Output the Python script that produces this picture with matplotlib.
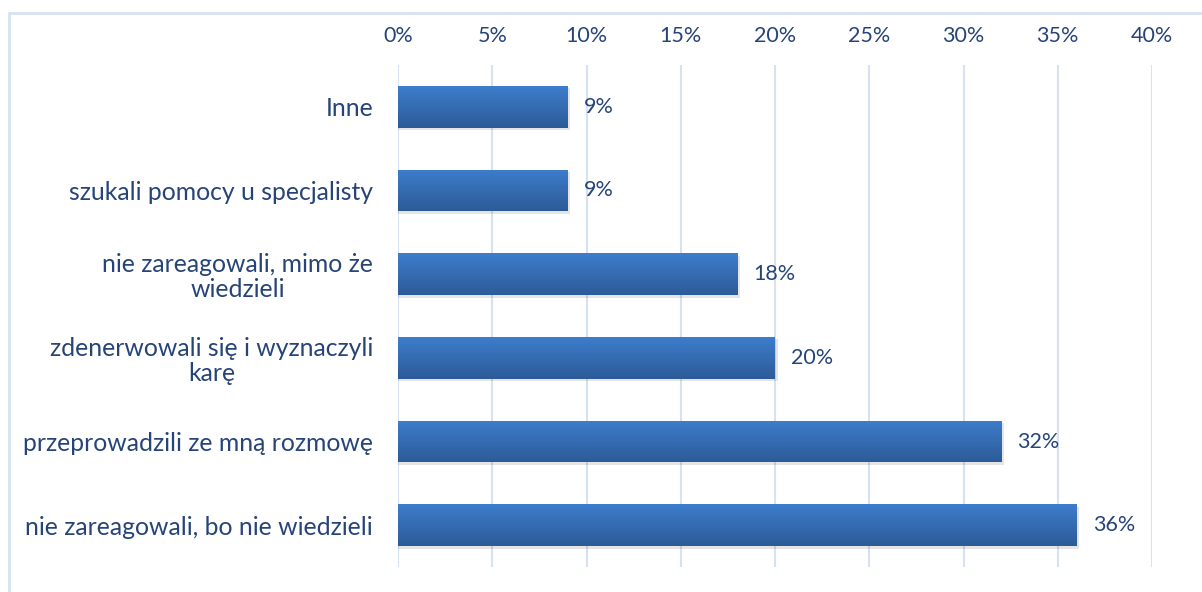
import matplotlib.pyplot as plt
import numpy as np
from matplotlib.patches import Rectangle

categories = ["Inne", "szukali pomocy u specjalisty", "nie zareagowali, mimo że\nwiedzieli",
              "zdenerwowali się i wyznaczyli\nkarę", "przeprowadzili ze mną rozmowę",
              "nie zareagowali, bo nie wiedzieli"]
values = [9, 9, 18, 20, 32, 36]
ticks = [0, 5, 10, 15, 20, 25, 30, 35, 40]

text_color = "#264478"
grid_color = "#D6E1F2"

plt.rcParams['font.family'] = ['Lato', 'DejaVu Sans']

fig = plt.figure(figsize=(12.02, 5.92), dpi=100)
fig.patches.append(Rectangle((9 / 1202, -0.1), 1.2, 1 - 13 / 592 + 0.1, transform=fig.transFigure,
                             fill=False, edgecolor=grid_color, linewidth=2))
ax = fig.add_axes([398 / 1202, 1 - 567 / 592, 754 / 1202, 502 / 592])

y = np.arange(len(categories))
h = 0.5
grad = np.linspace(0, 1, 50).reshape(-1, 1)
cmap = plt.matplotlib.colors.LinearSegmentedColormap.from_list("g", ["#3D7DCC", "#2D5B98"])
for yi, v in zip(y, values):
    # soft shadow
    ax.barh(yi + 0.03, v + 0.15, height=h, color="#000000", alpha=0.10, zorder=2)
    bar = ax.barh(yi, v, height=h, color="#3569B2", zorder=3)[0]
    im = ax.imshow(grad, cmap=cmap, aspect="auto", extent=(0, v, yi + h / 2, yi - h / 2), zorder=4)
    im.set_clip_path(bar)
    ax.text(v + 0.85, yi, f"{v}%", va="center", ha="left", fontsize=15.5, color=text_color, zorder=5)

ax.set_xlim(0, 40)
ax.set_ylim(len(categories) - 0.5, -0.5)
ax.set_xticks(ticks)
ax.set_xticklabels([f"{t}%" for t in ticks])
ax.set_yticks(y)
ax.set_yticklabels(categories, multialignment="center", linespacing=1.1)
ax.xaxis.tick_top()
ax.tick_params(axis="x", length=0, pad=14, labelsize=15.5, colors=text_color)
ax.tick_params(axis="y", length=0, pad=18, labelsize=17.8, colors=text_color)
ax.grid(axis="x", color=grid_color, linewidth=1.5, zorder=0)
ax.set_axisbelow(True)
for s in ax.spines.values():
    s.set_visible(False)

fig.savefig("out.png", dpi=100)
